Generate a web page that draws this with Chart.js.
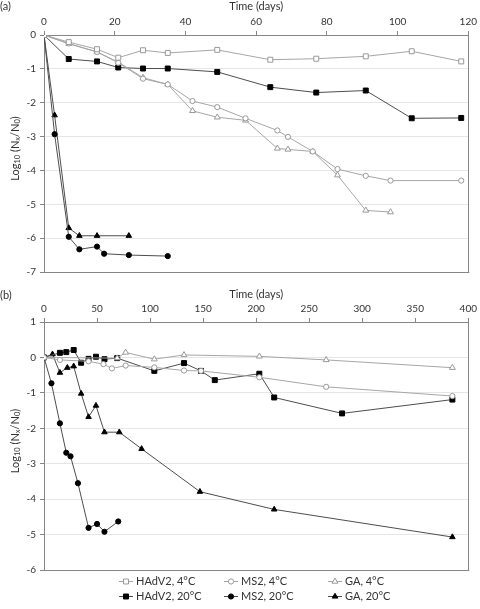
<!DOCTYPE html>
<html>
<head>
<meta charset="utf-8">
<script src="https://cdn.jsdelivr.net/npm/chart.js@4.4.1/dist/chart.umd.min.js"></script>
<style>
  html, body { margin: 0; padding: 0; background: #fff; }
  body { width: 480px; height: 609px; position: relative; overflow: hidden; }
  #wrapA { position: absolute; left: 0; top: 0; width: 480px; height: 282px; }
  #wrapB { position: absolute; left: 0; top: 288px; width: 480px; height: 321px; }
</style>
</head>
<body>
<div id="wrapA"><canvas id="chartA"></canvas></div>
<div id="wrapB"><canvas id="chartB"></canvas></div>
<script>
// ---- panel (a) data ----
const aHAdV4Days = [0, 7, 15, 21, 28, 35, 49, 64, 77, 91, 104, 118];
const aHAdV4Log  = [0, -0.21, -0.42, -0.67, -0.45, -0.53, -0.44, -0.73, -0.70, -0.63, -0.48, -0.78];
const aHAdV20Days = [0, 7, 15, 21, 28, 35, 49, 64, 77, 91, 104, 118];
const aHAdV20Log  = [0, -0.71, -0.78, -0.96, -0.99, -0.99, -1.09, -1.54, -1.70, -1.64, -2.46, -2.45];
const aMS24Days = [0, 7, 15, 21, 28, 35, 42, 49, 57, 66, 69, 76, 83, 91, 98, 118];
const aMS24Log  = [0, -0.25, -0.50, -0.82, -1.29, -1.46, -1.95, -2.13, -2.46, -2.82, -3.01, -3.44, -3.96, -4.16, -4.30, -4.30];
const aGA4Days = [0, 7, 15, 21, 28, 35, 42, 49, 57, 66, 69, 76, 83, 91, 98];
const aGA4Log  = [0, -0.26, -0.50, -0.80, -1.26, -1.46, -2.24, -2.43, -2.52, -3.35, -3.38, -3.44, -4.14, -5.18, -5.23];
const aMS220Days = [0, 3, 7, 10, 15, 17, 24, 35];
const aMS220Log  = [0, -2.93, -5.96, -6.33, -6.25, -6.46, -6.50, -6.53];
const aGA20Days = [0, 3, 7, 10, 15, 24];
const aGA20Log  = [0, -2.37, -5.70, -5.93, -5.93, -5.93];

// ---- panel (b) data ----
const bHAdV20Days = [0, 15, 21, 28, 35, 42, 49, 57, 69, 104, 132, 148, 161, 203, 217, 281, 385];
const bHAdV20Log  = [0, 0.13, 0.15, 0.21, -0.15, -0.04, 0.02, -0.05, -0.02, -0.38, -0.16, -0.38, -0.64, -0.46, -1.13, -1.58, -1.19];
const bMS24Days = [0, 15, 42, 56, 64, 77, 104, 132, 148, 203, 266, 385];
const bMS24Log  = [0, -0.07, -0.11, -0.19, -0.31, -0.23, -0.28, -0.37, -0.38, -0.56, -0.83, -1.09];
const bGA4Days = [0, 69, 77, 104, 132, 203, 266, 385];
const bGA4Log  = [0, -0.02, 0.14, -0.05, 0.07, 0.03, -0.07, -0.29];
const bMS220Days = [0, 7, 15, 21, 25, 32, 42, 50, 57, 70];
const bMS220Log  = [0, -0.73, -1.86, -2.69, -2.79, -3.55, -4.81, -4.70, -4.92, -4.63];
const bGA20Days = [0, 8, 15, 22, 28, 35, 42, 49, 57, 71, 92, 147, 217, 385];
const bGA20Log  = [0, 0.09, -0.43, -0.29, -0.25, -1.02, -1.68, -1.36, -2.11, -2.11, -2.58, -3.79, -4.29, -5.07];

const xTicksA = [0, 120, 20];   // min, max, step
const yTicksA = [-7, 0, 1];
const xTicksB = [0, 400, 50];
const yTicksB = [-6, 1, 1];

const legendLabels = ['HAdV2, 4°C', 'MS2, 4°C', 'GA, 4°C', 'HAdV2, 20°C', 'MS2, 20°C', 'GA, 20°C'];

const FONT = 'Lato, "Open Sans", sans-serif';
const TXT = '#333333';
const AXIS = '#868686';
const GRID = '#e6e6e6';
const LIGHT = '#a6a6a6';
const DARK = '#4d4d4d';

// marker style for each legend entry
const styles = [
  { shape: 'rect', line: LIGHT, stroke: '#999999', fill: '#ffffff', r: 3.5 },
  { shape: 'circle', line: LIGHT, stroke: '#999999', fill: '#ffffff', r: 2.6 },
  { shape: 'triangle', line: LIGHT, stroke: '#999999', fill: '#ffffff', r: 3.4 },
  { shape: 'rect', line: DARK, stroke: '#000000', fill: '#000000', r: 3.5 },
  { shape: 'circle', line: DARK, stroke: '#000000', fill: '#000000', r: 2.6 },
  { shape: 'triangle', line: DARK, stroke: '#000000', fill: '#000000', r: 3.2 }
];

function pts(xs, ys) {
  return xs.map((x, i) => ({ x: x, y: ys[i] }));
}

function series(idx, xs, ys) {
  const s = styles[idx];
  return {
    label: legendLabels[idx],
    data: pts(xs, ys),
    borderColor: s.line,
    borderWidth: 1,
    pointStyle: s.shape,
    pointRadius: s.r,
    pointBackgroundColor: s.fill,
    pointBorderColor: s.stroke,
    pointBorderWidth: 1,
    tension: 0,
    fill: false
  };
}

function drawMarker(ctx, s, x, y) {
  ctx.beginPath();
  if (s.shape === 'rect') {
    const h = s.r * Math.SQRT1_2;
    ctx.rect(x - h, y - h, 2 * h, 2 * h);
  } else if (s.shape === 'circle') {
    ctx.arc(x, y, s.r, 0, Math.PI * 2);
  } else {
    let a = 0;
    ctx.moveTo(x + Math.sin(a) * s.r, y - Math.cos(a) * s.r);
    a += Math.PI * 2 / 3;
    ctx.lineTo(x + Math.sin(a) * s.r, y - Math.cos(a) * s.r);
    a += Math.PI * 2 / 3;
    ctx.lineTo(x + Math.sin(a) * s.r, y - Math.cos(a) * s.r);
    ctx.closePath();
  }
  ctx.fillStyle = s.fill;
  ctx.fill();
  ctx.strokeStyle = s.stroke;
  ctx.lineWidth = 1;
  ctx.stroke();
}

// frame, y title with subscripts, panel letter, optional legend
const decorPlugin = {
  id: 'decor',
  beforeDatasetsDraw(chart, args, opts) {
    const { ctx, chartArea: a } = chart;
    ctx.save();
    ctx.strokeStyle = AXIS;
    ctx.lineWidth = 1;
    ctx.beginPath();
    ctx.moveTo(Math.round(a.right) + 0.5, a.top);
    ctx.lineTo(Math.round(a.right) + 0.5, a.bottom);
    ctx.moveTo(a.left, Math.round(a.bottom) + 0.5);
    ctx.lineTo(a.right + 1, Math.round(a.bottom) + 0.5);
    ctx.stroke();
    ctx.restore();
  },
  afterDraw(chart, args, opts) {
    const { ctx, chartArea: a } = chart;
    ctx.save();
    ctx.fillStyle = TXT;
    ctx.textBaseline = 'middle';
    ctx.textAlign = 'left';
    ctx.font = '11px ' + FONT;
    ctx.fillText(opts.letter, 0, opts.letterY);

    // rotated y axis title: Log10 (Nx/N0)
    const parts = [['Log', 11, 0], ['10', 7.5, 2.5], [' (N', 11, 0], ['x', 7.5, 2.5], ['/N', 11, 0], ['0', 7.5, 2.5], [')', 11, 0]];
    let total = 0;
    parts.forEach(p => { ctx.font = p[1] + 'px ' + FONT; total += ctx.measureText(p[0]).width; });
    ctx.translate(15, (a.top + a.bottom) / 2 - 5);
    ctx.rotate(-Math.PI / 2);
    let x = -total / 2;
    parts.forEach(p => {
      ctx.font = p[1] + 'px ' + FONT;
      ctx.fillText(p[0], x, p[2]);
      x += ctx.measureText(p[0]).width;
    });
    ctx.restore();

    if (opts.legend) {
      const colX = [119, 224, 328];
      const rowY = [581, 596];
      ctx.save();
      ctx.font = '11px ' + FONT;
      ctx.textBaseline = 'middle';
      const top = chart.canvas.getBoundingClientRect().top;
      legendLabels.forEach((lab, i) => {
        const s = styles[i];
        const x0 = colX[i % 3];
        const y0 = rowY[Math.floor(i / 3)] - top;
        ctx.strokeStyle = s.line;
        ctx.lineWidth = 1;
        ctx.beginPath();
        ctx.moveTo(x0, y0 + 0.5);
        ctx.lineTo(x0 + 14, y0 + 0.5);
        ctx.stroke();
        drawMarker(ctx, s, x0 + 7, y0 + 0.5);
        ctx.fillStyle = TXT;
        ctx.fillText(lab, x0 + 17, y0);
      });
      ctx.restore();
    }
  }
};

function makeOptions(xt, yt, xHeight, pad, decor) {
  return {
    responsive: true,
    maintainAspectRatio: false,
    animation: false,
    devicePixelRatio: 1,
    layout: { padding: pad },
    plugins: {
      legend: { display: false },
      tooltip: { enabled: false },
      decor: decor
    },
    scales: {
      x: {
        type: 'linear',
        position: 'top',
        min: xt[0],
        max: xt[1],
        ticks: { stepSize: xt[2], color: TXT, font: { family: FONT, size: 10 }, padding: 3, maxRotation: 0 },
        grid: { drawOnChartArea: false, tickLength: 4, color: AXIS },
        border: { color: AXIS },
        title: { display: true, text: 'Time (days)', color: TXT, font: { family: FONT, size: 11 }, padding: 0 },
        afterFit(scale) { scale.height = xHeight; }
      },
      y: {
        min: yt[0],
        max: yt[1],
        ticks: { stepSize: yt[2], color: TXT, font: { family: FONT, size: 10 }, padding: 4 },
        grid: { color: GRID, tickColor: AXIS, tickLength: 4 },
        border: { color: AXIS },
        afterFit(scale) { scale.width = 44; }
      }
    }
  };
}

new Chart(document.getElementById('chartA'), {
  type: 'line',
  data: {
    datasets: [
      series(0, aHAdV4Days, aHAdV4Log),
      series(1, aMS24Days, aMS24Log),
      series(2, aGA4Days, aGA4Log),
      series(3, aHAdV20Days, aHAdV20Log),
      series(4, aMS220Days, aMS220Log),
      series(5, aGA20Days, aGA20Log)
    ]
  },
  options: makeOptions(xTicksA, yTicksA, 35, { left: 0, right: 9, top: 0, bottom: 10 },
    { letter: '(a)', letterY: 6, legend: false }),
  plugins: [decorPlugin]
});

new Chart(document.getElementById('chartB'), {
  type: 'line',
  data: {
    datasets: [
      series(1, bMS24Days, bMS24Log),
      series(2, bGA4Days, bGA4Log),
      series(3, bHAdV20Days, bHAdV20Log),
      series(4, bMS220Days, bMS220Log),
      series(5, bGA20Days, bGA20Log)
    ]
  },
  options: makeOptions(xTicksB, yTicksB, 34, { left: 0, right: 8, top: 0, bottom: 39 },
    { letter: '(b)', letterY: 7, legend: true }),
  plugins: [decorPlugin]
});
</script>
</body>
</html>
